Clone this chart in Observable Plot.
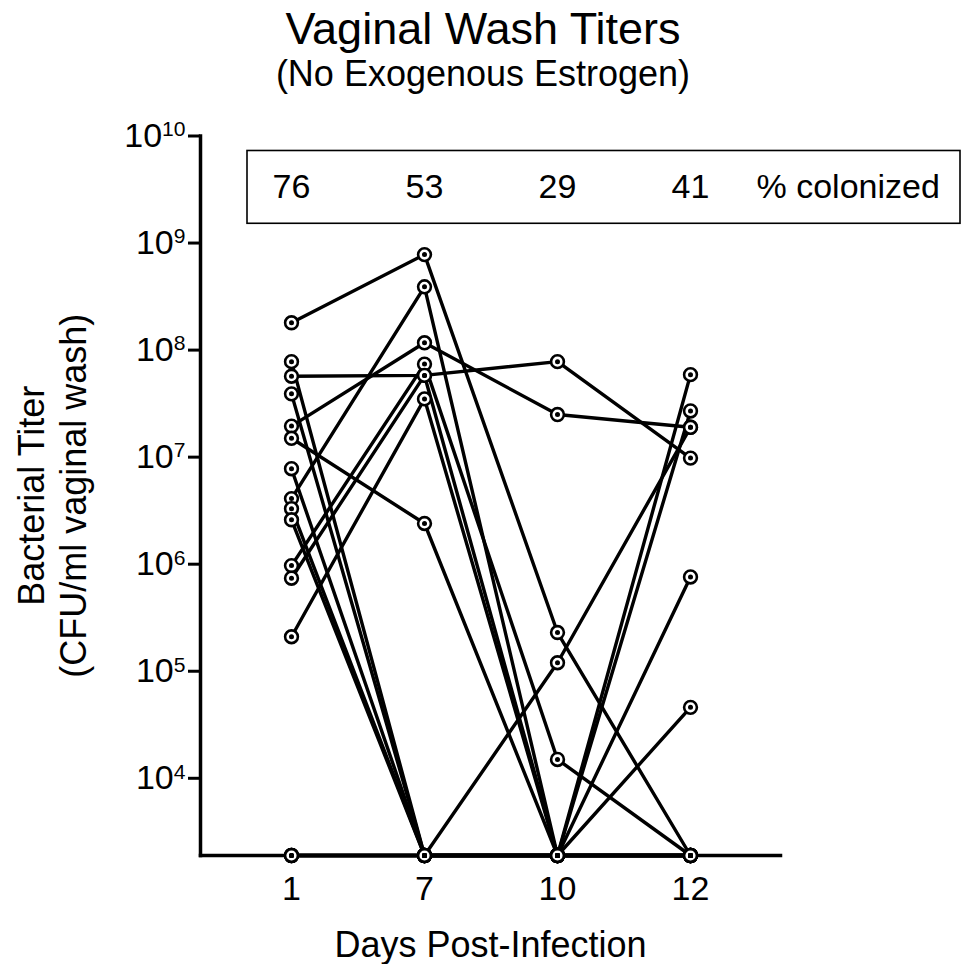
<!DOCTYPE html>
<html>
<head>
<meta charset="utf-8">
<script src="https://cdn.jsdelivr.net/npm/d3@7"></script>
<script src="https://cdn.jsdelivr.net/npm/@observablehq/plot@0.6"></script>
<style>
  body { margin: 0; background: #fff; font-family: "Liberation Sans", Arial, sans-serif; color: #000; }
  #wrap { width: 966px; position: relative; }
  #title { height: 100px; position: relative; }
  .t1 { position: absolute; left: 0; width: 966px; text-align: center; top: 6px; font-size: 45px; line-height: 45px; }
  .t2 { position: absolute; left: 0; width: 966px; text-align: center; top: 56px; font-size: 36px; line-height: 36px; }
</style>
</head>
<body>
<div id="wrap">
  <div id="title">
    <div class="t1">Vaginal Wash Titers</div>
    <div class="t2">(No Exogenous Estrogen)</div>
  </div>
  <div id="chart"></div>
</div>
<script>
// ---- data ----
const days = ["1", "7", "10", "12"];
const pctColonized = [76, 53, 29, 41];
const pctLabel = "% colonized";
const LOD = 1900; // below detection: drawn on the x-axis line
const yTicks = [1e4, 1e5, 1e6, 1e7, 1e8, 1e9, 1e10];
const mouseIds = ["A","B","C","D","E","F","G","H","I","J","K","L","M","N","O","P","Q"];
const titerDay1  = [1.8e8, 7.8e7, 5.7e7, 3.9e7, 1.95e7, 1.5e7, 7.8e6, 4.1e6, 3.3e6, 2.6e6, 9.7e5, 7.4e5, 2.1e5, LOD, LOD, LOD, LOD];
const titerDay7  = [7.8e8, LOD, 5.8e7, LOD, 1.17e8, 2.4e6, LOD, 3.9e8, LOD, LOD, 7.4e7, 5.8e7, 3.5e7, LOD, LOD, LOD, LOD];
const titerDay10 = [2.3e5, LOD, 7.8e7, LOD, 2.5e7, LOD, LOD, LOD, LOD, LOD, 1.5e4, LOD, LOD, 1.2e5, LOD, LOD, LOD];
const titerDay12 = [LOD, 5.9e7, 9.8e6, 2.7e7, 1.9e7, LOD, 7.6e5, LOD, 4.6e4, LOD, LOD, LOD, LOD, 1.9e7, LOD, LOD, LOD];

// ---- tidy table ----
const series = [titerDay1, titerDay7, titerDay10, titerDay12];
const rows = [];
mouseIds.forEach((m, i) => {
  days.forEach((d, j) => rows.push({mouse: m, day: d, titer: series[j][i]}));
});
const pctRows = days.map((d, i) => ({day: d, pct: pctColonized[i]}));

const FONT = "Liberation Sans, Arial, sans-serif";

function boxMark(index, scales, values, dims) {
  const x0 = scales.x(days[0]) - 44;
  const x1 = dims.width - 6;
  const y0 = scales.y(10 ** 9.86);
  const y1 = scales.y(10 ** 9.18);
  return d3.create("svg:rect")
    .attr("x", x0).attr("y", y0)
    .attr("width", x1 - x0).attr("height", y1 - y0)
    .attr("fill", "none").attr("stroke", "black").attr("stroke-width", 1.6)
    .node();
}

const plot = Plot.plot({
  width: 966,
  height: 864,
  marginLeft: 200,
  marginRight: 186,
  marginTop: 35.5,
  marginBottom: 109,
  style: {fontFamily: FONT, background: "white", color: "black", overflow: "visible"},
  x: {type: "point", domain: days, padding: 0.672},
  y: {type: "log", domain: [LOD, 1e10]},
  marks: [
    Plot.axisY({ticks: yTicks, tickSize: 12, tickPadding: 3, strokeWidth: 3, fontSize: 34,
      tickFormat: d => String(Math.round(Math.log10(d))), label: null}),
    Plot.axisX({tickSize: 8, tickPadding: 12, strokeWidth: 2.5, fontSize: 34, label: null}),
    Plot.frame({anchor: "left", strokeWidth: 3.5}),
    Plot.frame({anchor: "bottom", strokeWidth: 3.5}),
    boxMark,
    Plot.text(pctRows, {x: "day", y: () => 10 ** 9.52, text: d => String(d.pct), fontSize: 34}),
    Plot.text([pctLabel], {x: () => days[days.length - 1], y: () => 10 ** 9.52, text: d => d, dx: 66, textAnchor: "start", fontSize: 34}),
    Plot.line(rows, {x: "day", y: "titer", z: "mouse", stroke: "black", strokeWidth: 3.4}),
    Plot.dot(rows, {x: "day", y: "titer", r: 6.4, fill: "white", stroke: "black", strokeWidth: 2.6}),
    Plot.dot(rows, {x: "day", y: "titer", r: 2.5, fill: "black"}),
    Plot.text(["Days Post-Infection"], {frameAnchor: "bottom", text: d => d, dy: 90, lineAnchor: "middle", textAnchor: "middle", fontSize: 36}),
    Plot.text(["Bacterial Titer"], {frameAnchor: "left", text: d => d, rotate: -90, dx: -168, textAnchor: "middle", lineAnchor: "middle", fontSize: 36}),
    Plot.text(["(CFU/ml vaginal wash)"], {frameAnchor: "left", text: d => d, rotate: -90, dx: -126, textAnchor: "middle", lineAnchor: "middle", fontSize: 36})
  ]
});

// superscript exponents on y tick labels
d3.select(plot).selectAll('g[aria-label="y-axis tick label"] text').each(function () {
  const e = this.textContent;
  this.textContent = "10";
  d3.select(this).append("tspan").attr("dy", "-0.5em").attr("font-size", "0.62em").text(e);
});

document.getElementById("chart").appendChild(plot);
</script>
</body>
</html>
